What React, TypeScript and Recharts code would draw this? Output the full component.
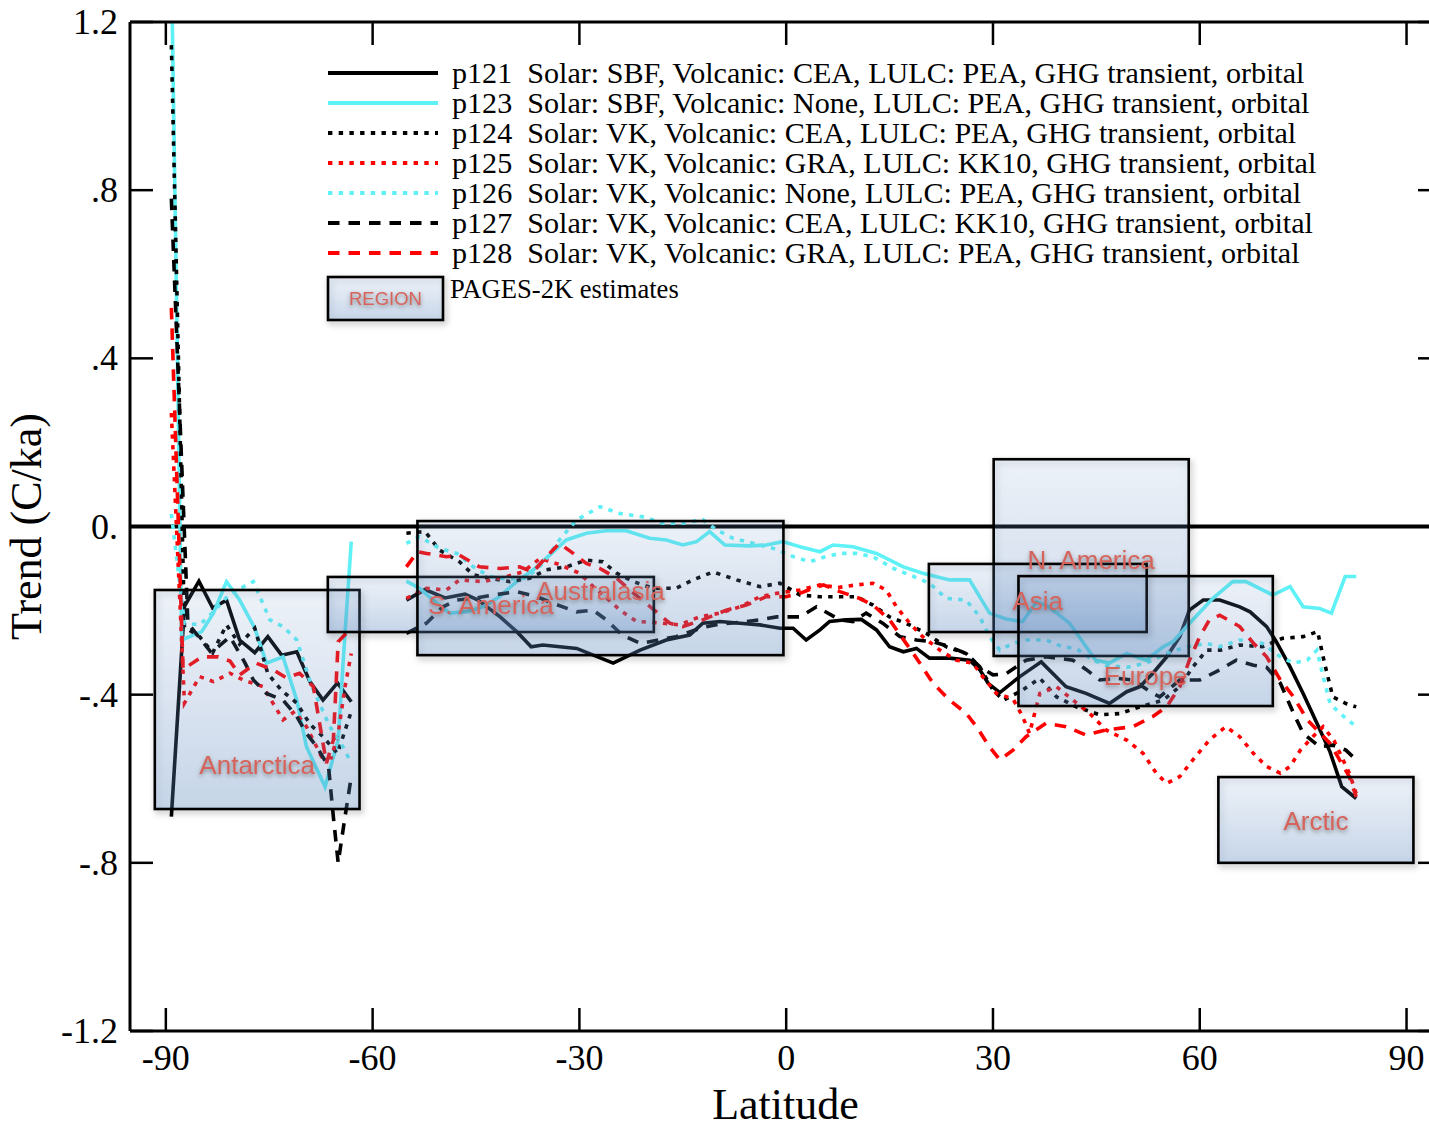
import React from 'react';
import { LineChart, Line, XAxis, YAxis, ReferenceLine, ReferenceArea, ReferenceDot } from 'recharts';

type Pt = [number, number | null];

// ---------- axes ----------
const xTicks = [-90, -60, -30, 0, 30, 60, 90];
const yTicks = [-1.2, -0.8, -0.4, 0, 0.4, 0.8, 1.2];
const yTickLabels = ['-1.2', '-.8', '-.4', '0.', '.4', '.8', '1.2'];
const xDomain: [number, number] = [-95.2, 95];
const yDomain: [number, number] = [-1.2, 1.2];

// ---------- series (latitude, trend C/ka) ----------
const p121: Pt[] = [
  [-89.2, -0.69], [-87.3, -0.19], [-85.2, -0.13], [-83.2, -0.194], [-81.2, -0.175], [-79.3, -0.27], [-77.1, -0.3],
  [-75.2, -0.262], [-73.2, -0.306], [-71.0, -0.298], [-69.1, -0.369], [-67.2, -0.413], [-65.1, -0.372], [-63.1, -0.417],
  [-59, null],
  [-55.1, -0.175], [-52.4, -0.15], [-49.5, -0.17], [-46.6, -0.161], [-44.7, -0.175], [-41.5, -0.215], [-39.1, -0.25],
  [-37.0, -0.286], [-35.3, -0.282], [-30.4, -0.29], [-25.1, -0.325], [-21.2, -0.294], [-17.4, -0.27], [-14.0, -0.258],
  [-12.1, -0.23], [-9.6, -0.226], [-6.7, -0.23], [-3.8, -0.234], [-0.9, -0.242], [1.0, -0.242], [2.9, -0.27],
  [4.9, -0.246], [6.3, -0.226], [8.7, -0.222], [10.9, -0.221], [13.1, -0.246], [15.0, -0.286], [17.0, -0.298],
  [18.9, -0.29], [20.8, -0.313], [23.7, -0.313], [26.6, -0.318], [28.1, -0.341], [29.3, -0.373], [31.0, -0.395],
  [33.9, -0.357], [37.0, -0.322], [40.6, -0.381], [43.5, -0.397], [46.9, -0.421], [49.4, -0.393], [51.3, -0.381],
  [53.2, -0.349], [55.2, -0.31], [57.1, -0.262], [58.5, -0.199], [60.5, -0.175], [62.9, -0.175], [65.8, -0.191],
  [67.3, -0.203], [69.7, -0.238], [71.1, -0.274], [73.1, -0.334], [75.0, -0.397], [77.0, -0.468], [78.9, -0.536],
  [80.6, -0.619], [82.7, -0.647],
];

const p123: Pt[] = [
  [-89.2, 1.35], [-87.7, -0.27], [-84.8, -0.25], [-83.1, -0.206], [-81.2, -0.131], [-79.3, -0.175], [-77.1, -0.242],
  [-75.4, -0.325], [-73.0, -0.31], [-71.0, -0.413], [-69.6, -0.524], [-66.9, -0.619], [-65.0, -0.508], [-64.0, -0.253],
  [-63.1, -0.036],
  [-59, null],
  [-55.1, -0.13], [-53.2, -0.147], [-51.2, -0.175], [-48.8, -0.206], [-46.4, -0.203], [-44.0, -0.191], [-41.6, -0.167],
  [-39.1, -0.131], [-36.7, -0.103], [-34.3, -0.068], [-31.9, -0.032], [-29.0, -0.016], [-26.1, -0.01], [-23.2, -0.01],
  [-19.8, -0.028], [-17.4, -0.032], [-15.0, -0.044], [-13.0, -0.036], [-11.1, -0.012], [-8.9, -0.044], [-5.3, -0.046],
  [-2.9, -0.044], [-0.5, -0.036], [2.0, -0.048], [4.9, -0.06], [6.8, -0.044], [9.7, -0.048], [13.1, -0.064],
  [17.0, -0.096], [19.8, -0.111], [23.7, -0.127], [26.6, -0.127], [29.5, -0.206], [31.9, -0.22], [34.3, -0.226],
  [36.3, -0.18], [38.0, -0.19], [41.1, -0.23], [44.9, -0.318], [46.9, -0.325], [49.4, -0.302], [52.2, -0.318],
  [54.7, -0.286], [56.1, -0.274], [59.0, -0.222], [61.9, -0.171], [64.8, -0.131], [66.7, -0.131], [70.6, -0.163],
  [73.1, -0.143], [75.0, -0.191], [77.4, -0.195], [79.1, -0.206], [81.1, -0.119], [82.7, -0.119],
];

const p124: Pt[] = [
  [-89.2, 1.145], [-87.3, -0.24], [-85.2, -0.26], [-83.2, -0.3], [-81.2, -0.234], [-79.3, -0.28], [-77.1, -0.242],
  [-75.2, -0.35], [-73.2, -0.39], [-71.0, -0.42], [-69.1, -0.47], [-67.2, -0.5], [-65.1, -0.54], [-63.1, -0.44],
  [-59, null],
  [-55.1, -0.016], [-52.4, -0.012], [-50.3, -0.056], [-47.4, -0.084], [-45.4, -0.115], [-43.0, -0.123], [-40.1, -0.131],
  [-37.2, -0.123], [-34.8, -0.103], [-31.9, -0.096], [-29.0, -0.08], [-26.6, -0.084], [-24.6, -0.111], [-22.2, -0.131],
  [-19.3, -0.147], [-16.0, -0.147], [-13.5, -0.127], [-10.6, -0.108], [-7.2, -0.127], [-3.8, -0.143], [-0.9, -0.135],
  [2.0, -0.163], [4.9, -0.167], [7.8, -0.167], [10.2, -0.167], [12.6, -0.187], [15.0, -0.215], [17.9, -0.234],
  [20.3, -0.254], [23.2, -0.286], [26.1, -0.302], [28.1, -0.334], [30.0, -0.389], [31.5, -0.413], [33.4, -0.397],
  [34.3, -0.389], [36.8, -0.361], [39.2, -0.405], [42.1, -0.429], [45.5, -0.448], [48.4, -0.445], [51.3, -0.429],
  [54.7, -0.413], [57.1, -0.381], [59.0, -0.334], [61.0, -0.294], [63.0, -0.294], [65.8, -0.282], [69.1, -0.286],
  [72.0, -0.266], [75.0, -0.262], [77.1, -0.25], [78.1, -0.325], [79.3, -0.405], [81.2, -0.421], [82.7, -0.429],
];

const p125: Pt[] = [
  [-89.2, 0.27], [-87.3, -0.42], [-85.1, -0.357], [-83.1, -0.369], [-80.7, -0.349], [-78.8, -0.365], [-75.9, -0.381],
  [-73.0, -0.46], [-71.3, -0.44], [-69.6, -0.476], [-67.4, -0.548], [-66.0, -0.55], [-65.0, -0.492], [-64.0, -0.381],
  [-63.1, -0.302],
  [-59, null],
  [-55.1, -0.171], [-52.2, -0.147], [-49.3, -0.151], [-47.4, -0.127], [-44.0, -0.131], [-40.6, -0.119], [-38.2, -0.108],
  [-35.7, -0.076], [-33.0, -0.09], [-30.0, -0.111], [-28.0, -0.143], [-26.4, -0.165], [-24.1, -0.199], [-21.7, -0.226],
  [-19.3, -0.228], [-15.5, -0.234], [-12.6, -0.215], [-9.6, -0.206], [-6.7, -0.191], [-3.8, -0.167], [-1.4, -0.159],
  [2.0, -0.151], [4.9, -0.139], [7.5, -0.145], [10.2, -0.139], [12.6, -0.135], [14.5, -0.151], [16.0, -0.191],
  [17.9, -0.23], [19.8, -0.262], [22.3, -0.294], [24.7, -0.318], [27.1, -0.325], [28.5, -0.357], [30.5, -0.397],
  [32.9, -0.41], [34.3, -0.452], [35.3, -0.492], [36.8, -0.397], [39.2, -0.381], [41.6, -0.413], [44.0, -0.444],
  [46.4, -0.484], [49.4, -0.508], [51.8, -0.54], [53.7, -0.587], [55.2, -0.611], [57.1, -0.595], [59.0, -0.555],
  [61.4, -0.508], [63.8, -0.476], [65.8, -0.5], [67.8, -0.54], [69.7, -0.571], [71.7, -0.587], [73.1, -0.571],
  [74.6, -0.532], [76.4, -0.5], [77.9, -0.476], [79.5, -0.51], [81.7, -0.587], [82.7, -0.635],
];

const p126: Pt[] = [
  [-89.2, 0.03], [-87.3, -0.23], [-85.1, -0.234], [-83.1, -0.203], [-80.7, -0.16], [-77.3, -0.131], [-74.9, -0.222],
  [-73.0, -0.238], [-71.0, -0.27], [-68.9, -0.377], [-66.2, -0.476], [-64.3, -0.524], [-63.1, -0.563],
  [-59, null],
  [-55.1, -0.04], [-53.2, -0.024], [-50.3, -0.052], [-47.8, -0.064], [-45.4, -0.096], [-43.0, -0.119], [-40.5, -0.125],
  [-37.7, -0.123], [-35.3, -0.088], [-32.9, -0.032], [-30.4, 0.016], [-27.0, 0.047], [-24.1, 0.031], [-20.8, 0.023],
  [-17.9, 0.008], [-15.0, 0.008], [-12.1, 0.016], [-10.1, -0.008], [-7.7, -0.028], [-4.8, -0.04], [-1.9, -0.052],
  [1.1, -0.072], [3.4, -0.084], [6.0, -0.07], [8.0, -0.064], [10.2, -0.064], [12.6, -0.072], [15.6, -0.1],
  [18.5, -0.119], [20.8, -0.135], [23.2, -0.171], [26.1, -0.175], [28.1, -0.215], [29.5, -0.262], [31.0, -0.294],
  [32.9, -0.278], [34.8, -0.27], [37.7, -0.27], [40.1, -0.286], [42.1, -0.29], [44.5, -0.318], [46.4, -0.33],
  [49.4, -0.335], [52.2, -0.325], [55.2, -0.302], [58.1, -0.286], [61.0, -0.278], [62.9, -0.286], [65.8, -0.27],
  [69.1, -0.278], [71.7, -0.31], [73.6, -0.325], [75.6, -0.318], [77.0, -0.294], [77.9, -0.357], [78.9, -0.421],
  [80.3, -0.444], [82.7, -0.476],
];

const p127: Pt[] = [
  [-89.2, 0.78], [-86.8, -0.23], [-83.4, -0.3], [-80.7, -0.262], [-78.5, -0.325], [-77.3, -0.365], [-75.4, -0.397],
  [-73.0, -0.413], [-71.0, -0.452], [-69.6, -0.492], [-68.1, -0.524], [-66.4, -0.571], [-65.7, -0.69], [-65.0, -0.8],
  [-64.0, -0.69], [-63.1, -0.595],
  [-59, null],
  [-55.1, -0.254], [-52.2, -0.23], [-49.8, -0.191], [-47.8, -0.175], [-45.0, -0.17], [-42.5, -0.163], [-39.1, -0.155],
  [-36.2, -0.167], [-33.8, -0.183], [-30.4, -0.203], [-28.0, -0.199], [-26.1, -0.222], [-23.8, -0.258], [-21.2, -0.278],
  [-18.5, -0.27], [-16.0, -0.262], [-12.1, -0.24], [-9.6, -0.232], [-6.7, -0.228], [-3.8, -0.222], [-1.4, -0.215],
  [2.0, -0.215], [4.4, -0.191], [7.8, -0.222], [9.7, -0.226], [11.6, -0.206], [14.0, -0.23], [16.5, -0.262],
  [18.9, -0.27], [21.3, -0.274], [23.7, -0.286], [26.1, -0.302], [28.1, -0.334], [30.0, -0.353], [31.9, -0.35],
  [34.8, -0.318], [37.7, -0.31], [41.6, -0.318], [43.5, -0.34], [45.5, -0.365], [47.9, -0.361], [50.3, -0.365],
  [53.2, -0.397], [54.2, -0.405], [57.1, -0.365], [60.0, -0.365], [62.9, -0.341], [65.3, -0.318], [67.8, -0.33],
  [69.7, -0.335], [71.7, -0.373], [73.6, -0.444], [75.0, -0.492], [77.4, -0.524], [79.3, -0.52], [81.2, -0.532],
  [82.7, -0.555],
];

const p128: Pt[] = [
  [-89.2, 0.52], [-87.5, -0.34], [-84.8, -0.31], [-82.4, -0.31], [-80.7, -0.32], [-79.3, -0.353], [-76.9, -0.325],
  [-74.4, -0.341], [-72.5, -0.36], [-70.6, -0.349], [-68.6, -0.381], [-66.7, -0.563], [-65.7, -0.508], [-65.0, -0.274],
  [-63.6, -0.25],
  [-59, null],
  [-55.1, -0.096], [-53.5, -0.06], [-52.2, -0.064], [-49.3, -0.072], [-47.4, -0.068], [-44.5, -0.096], [-41.5, -0.1],
  [-38.7, -0.096], [-36.7, -0.108], [-34.8, -0.072], [-32.9, -0.04], [-30.9, -0.064], [-29.0, -0.088], [-27.0, -0.1],
  [-24.6, -0.123], [-22.7, -0.151], [-19.8, -0.19], [-16.9, -0.23], [-15.0, -0.238], [-12.1, -0.222], [-8.7, -0.199],
  [-5.8, -0.187], [-2.9, -0.167], [0.0, -0.167], [2.0, -0.159], [3.4, -0.15], [5.4, -0.139], [7.8, -0.155],
  [10.5, -0.17], [12.6, -0.187], [15.0, -0.222], [17.4, -0.278], [19.4, -0.325], [21.3, -0.373], [23.7, -0.413],
  [26.1, -0.444], [27.6, -0.476], [29.5, -0.524], [31.0, -0.555], [32.9, -0.532], [34.8, -0.5], [37.7, -0.468],
  [40.6, -0.476], [43.5, -0.496], [46.4, -0.484], [50.3, -0.476], [53.2, -0.452], [55.2, -0.429], [57.1, -0.381],
  [58.5, -0.318], [60.0, -0.262], [61.4, -0.222], [62.9, -0.211], [65.8, -0.238], [67.8, -0.278], [69.7, -0.31],
  [71.7, -0.365], [73.6, -0.405], [75.6, -0.46], [77.0, -0.484], [78.9, -0.516], [81.7, -0.595], [82.7, -0.643],
];

// ---------- PAGES-2K regional estimates ----------
const regionNames = ['Antarctica', 'S. America', 'Australasia', 'N. America', 'Asia', 'Europe', 'Arctic'];
const regionLatStart = [-91.6, -66.5, -53.5, 30.1, 20.7, 33.7, 62.7];
const regionLatEnd = [-61.9, -19.2, -0.4, 58.4, 52.3, 70.6, 91.0];
const regionLow = [-0.672, -0.251, -0.306, -0.308, -0.251, -0.427, -0.8];
const regionHigh = [-0.151, -0.12, 0.013, 0.16, -0.089, -0.118, -0.596];
const regionLabelValue = [-0.567, -0.186, -0.154, -0.08, -0.177, -0.356, -0.7];

// ---------- styling ----------
const BLACK = '#000000';
const CYAN = '#5ef1f6';
const RED = '#ff0000';
const DOT = '4.4 6.3';
const DASH = '11.5 9';
const SERIF = '"Liberation Serif", "Times New Roman", Times, serif';
const SANS = '"Liberation Sans", Arial, Helvetica, sans-serif';
const LABEL_RED = '#d5645c';

const SERIES = [
  { name: 'p121', data: p121, color: BLACK, dash: undefined as string | undefined, desc: 'Solar: SBF, Volcanic: CEA, LULC: PEA, GHG transient, orbital' },
  { name: 'p123', data: p123, color: CYAN, dash: undefined, desc: 'Solar: SBF, Volcanic: None, LULC: PEA, GHG transient, orbital' },
  { name: 'p124', data: p124, color: BLACK, dash: DOT, desc: 'Solar: VK, Volcanic: CEA, LULC: PEA, GHG transient, orbital' },
  { name: 'p125', data: p125, color: RED, dash: DOT, desc: 'Solar: VK, Volcanic: GRA, LULC: KK10, GHG transient, orbital' },
  { name: 'p126', data: p126, color: CYAN, dash: DOT, desc: 'Solar: VK, Volcanic: None, LULC: PEA, GHG transient, orbital' },
  { name: 'p127', data: p127, color: BLACK, dash: DASH, desc: 'Solar: VK, Volcanic: CEA, LULC: KK10, GHG transient, orbital' },
  { name: 'p128', data: p128, color: RED, dash: DASH, desc: 'Solar: VK, Volcanic: GRA, LULC: PEA, GHG transient, orbital' },
];

const toRows = (pts: Pt[]) => pts.map(([lat, v]) => ({ lat, v }));

const TICK_LEN = 23;
const TICK_W = 2.5;

const BottomTick = (props: any) => {
  const { x, y, payload } = props;
  return (
    <g>
      <line x1={x} y1={y} x2={x} y2={y - TICK_LEN} stroke="#000" strokeWidth={TICK_W} />
      <text x={x} y={y + 39} textAnchor="middle" fontFamily={SERIF} fontSize={36} fill="#000">
        {String(payload.value)}
      </text>
    </g>
  );
};

const TopTick = (props: any) => {
  const { x, y } = props;
  return <line x1={x} y1={y} x2={x} y2={y + TICK_LEN} stroke="#000" strokeWidth={TICK_W} />;
};

const LeftTick = (props: any) => {
  const { x, y, payload } = props;
  const idx = yTicks.findIndex((t) => Math.abs(t - payload.value) < 1e-9);
  const label = idx >= 0 ? yTickLabels[idx] : String(payload.value);
  return (
    <g>
      <line x1={x} y1={y} x2={x + TICK_LEN} y2={y} stroke="#000" strokeWidth={TICK_W} />
      <text x={x - 12} y={y + 12} textAnchor="end" fontFamily={SERIF} fontSize={36} fill="#000">
        {label}
      </text>
    </g>
  );
};

const RightTick = (props: any) => {
  const { x, y } = props;
  return <line x1={x} y1={y} x2={x - TICK_LEN} y2={y} stroke="#000" strokeWidth={TICK_W} />;
};

const RegionShape = (props: any) => {
  const { x, y, width, height } = props;
  if (x == null || y == null) return null;
  return (
    <g filter="url(#regionShadow)">
      <rect x={x} y={y} width={width} height={height} fill="url(#regionFill)" stroke="#000" strokeWidth={2.6} />
    </g>
  );
};

const makeLabelShape = (text: string) => (props: any) => {
  const { cx, cy } = props;
  if (cx == null || cy == null) return null;
  return (
    <text
      x={cx}
      y={cy}
      textAnchor="middle"
      dominantBaseline="central"
      fontFamily={SANS}
      fontSize={26}
      fill={LABEL_RED}
      filter="url(#labelShadow)"
    >
      {text}
    </text>
  );
};

const LegendOverlay = () => {
  // page coordinates minus the 8px wrapper offset
  const x0 = 320;
  const y0 = 65;
  const step = 30;
  return (
    <svg width={1421} height={330} style={{ position: 'absolute', left: 0, top: 0, pointerEvents: 'none' }}>
      {SERIES.map((s, i) => (
        <g key={s.name}>
          <line
            x1={x0}
            x2={x0 + 110}
            y1={y0 + i * step}
            y2={y0 + i * step}
            stroke={s.color}
            strokeWidth={4}
            strokeDasharray={s.dash}
          />
          <text
            x={x0 + 124}
            y={y0 + i * step + 9.5}
            fontFamily={SERIF}
            fontSize={30.1}
            fill="#000"
            style={{ whiteSpace: 'pre' }}
          >
            {`${s.name}  ${s.desc}`}
          </text>
        </g>
      ))}
      <g filter="url(#regionShadow)">
        <rect x={x0} y={269} width={115} height={43} fill="url(#regionFill)" stroke="#000" strokeWidth={2.6} />
      </g>
      <text
        x={x0 + 57.5}
        y={290.5}
        textAnchor="middle"
        dominantBaseline="central"
        fontFamily={SANS}
        fontSize={18.5}
        fill={LABEL_RED}
        filter="url(#labelShadow)"
      >
        REGION
      </text>
      <text x={442} y={290} fontFamily={SERIF} fontSize={26.6} fill="#000">
        PAGES-2K estimates
      </text>
    </svg>
  );
};

export default function App() {
  return (
    <div style={{ position: 'absolute', left: 8, top: 8, width: 1421, height: 1116, overflow: 'hidden', background: '#fff' }}>
      <svg width={0} height={0} style={{ position: 'absolute' }}>
        <defs>
          <linearGradient id="regionFill" x1="0" y1="0" x2="0" y2="1">
            <stop offset="0%" stopColor="#7fa6dc" stopOpacity={0.1} />
            <stop offset="100%" stopColor="#5f8fcc" stopOpacity={0.28} />
          </linearGradient>
          <filter id="regionShadow" x="-20%" y="-20%" width="140%" height="150%">
            <feDropShadow dx="2" dy="3" stdDeviation="3" floodColor="#000" floodOpacity="0.3" />
          </filter>
          <filter id="labelShadow" x="-10%" y="-40%" width="120%" height="190%">
            <feDropShadow dx="0" dy="2" stdDeviation="2" floodColor="#444" floodOpacity="0.6" />
          </filter>
        </defs>
      </svg>
      <LineChart width={1440} height={1116} margin={{ top: 13, right: 6, bottom: 0, left: 0 }}>
        <XAxis
          dataKey="lat"
          type="number"
          domain={xDomain}
          ticks={xTicks}
          interval={0}
          allowDataOverflow
          height={93}
          tickSize={0}
          tickMargin={0}
          tickLine={false}
          axisLine={{ stroke: '#000', strokeWidth: 3 }}
          tick={(p: any) => <BottomTick {...p} />}
          label={{
            content: (lp: any) => {
              const vb = lp.viewBox || { x: 122, y: 1023, width: 1311, height: 93 };
              return (
                <text x={vb.x + vb.width / 2} y={vb.y + 88} textAnchor="middle" fontFamily={SERIF} fontSize={44} fill="#000">
                  Latitude
                </text>
              );
            },
          }}
        />
        <XAxis
          xAxisId="top"
          orientation="top"
          type="number"
          dataKey="lat"
          domain={xDomain}
          ticks={xTicks}
          interval={0}
          allowDataOverflow
          height={1}
          tickSize={0}
          tickMargin={0}
          tickLine={false}
          axisLine={{ stroke: '#000', strokeWidth: 3 }}
          tick={(p: any) => <TopTick {...p} />}
        />
        <YAxis
          type="number"
          domain={yDomain}
          ticks={yTicks}
          interval={0}
          allowDataOverflow
          width={122}
          tickSize={0}
          tickMargin={0}
          tickLine={false}
          axisLine={{ stroke: '#000', strokeWidth: 3 }}
          tick={(p: any) => <LeftTick {...p} />}
          label={{
            content: (lp: any) => {
              const vb = lp.viewBox || { x: 0, y: 14, width: 122, height: 1009 };
              const cx = vb.x + 33;
              const cy = vb.y + vb.height / 2;
              return (
                <text
                  x={cx}
                  y={cy}
                  transform={`rotate(-90 ${cx} ${cy})`}
                  textAnchor="middle"
                  fontFamily={SERIF}
                  fontSize={44}
                  fill="#000"
                >
                  Trend (C/ka)
                </text>
              );
            },
          }}
        />
        <YAxis
          yAxisId="right"
          orientation="right"
          type="number"
          domain={yDomain}
          ticks={yTicks}
          interval={0}
          allowDataOverflow
          width={1}
          tickSize={0}
          tickMargin={0}
          tickLine={false}
          axisLine={{ stroke: '#000', strokeWidth: 3 }}
          tick={(p: any) => <RightTick {...p} />}
        />
        <ReferenceLine y={0} stroke="#000" strokeWidth={4} zIndex={350} />
        {SERIES.map((s) => (
          <Line
            key={s.name}
            name={s.name}
            data={toRows(s.data)}
            dataKey="v"
            type="linear"
            stroke={s.color}
            strokeWidth={3.6}
            strokeDasharray={s.dash}
            dot={false}
            activeDot={false}
            connectNulls={false}
            isAnimationActive={false}
          />
        ))}
        {regionNames.map((r, i) => (
          <ReferenceArea
            key={`area-${r}`}
            x1={regionLatStart[i]}
            x2={regionLatEnd[i]}
            y1={regionLow[i]}
            y2={regionHigh[i]}
            ifOverflow="visible"
            shape={(p: any) => <RegionShape {...p} />}
            zIndex={700}
          />
        ))}
        {regionNames.map((r, i) => (
          <ReferenceDot
            key={`lbl-${r}`}
            x={(regionLatStart[i] + regionLatEnd[i]) / 2}
            y={regionLabelValue[i]}
            r={0}
            ifOverflow="visible"
            shape={makeLabelShape(r)}
            zIndex={800}
          />
        ))}
      </LineChart>
      <LegendOverlay />
    </div>
  );
}
